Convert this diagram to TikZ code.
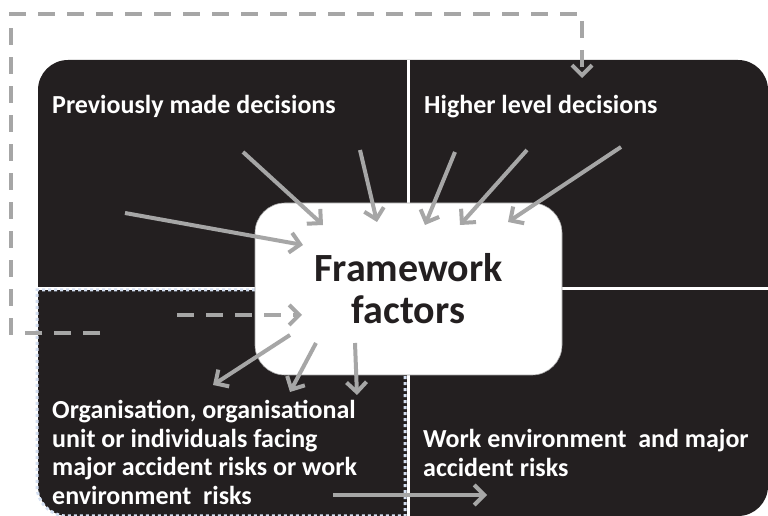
\documentclass[tikz,border=0pt]{standalone}
\usepackage{fontspec}
\setmainfont{Carlito}
\usetikzlibrary{arrows.meta}
\definecolor{panel}{HTML}{231F20}
\definecolor{arrowgray}{HTML}{A6A6A6}
\definecolor{dotblue}{HTML}{D5E0F2}
\tikzset{
  flow/.style={draw=arrowgray, line width=4pt, -{Straight Barb[length=10pt,width=20pt]}},
  dashflow/.style={flow, dash pattern=on 17pt off 12pt},
  label/.style={text=white, font=\bfseries\fontsize{26}{28.7}\selectfont, inner sep=0pt, align=left},
  centerbox/.style={draw=arrowgray, line width=0.6pt, fill=white, rounded corners=30pt,
    minimum width=307pt, minimum height=172pt, inner sep=0pt,
    font=\bfseries\fontsize{40}{42}\selectfont, text=panel, align=center}
}
\begin{document}
\begin{tikzpicture}[x=1pt,y=1pt]
\useasboundingbox (0,0) rectangle (768,516);
% black matrix panel
\fill[panel, rounded corners=30pt] (38,0) rectangle (768,456);
% dividers between the four quadrants
\draw[white, line width=3pt] (408,0) -- (408,456);
\draw[white, line width=3pt] (38,227) -- (768,227);
% dotted outline of the lower left quadrant
\draw[dotblue, line width=3pt, dash pattern=on 3pt off 3pt]
  (405,226) -- (37,226) -- (37,30) arc[start angle=180, end angle=270, radius=30] -- (405,0) -- cycle;
% quadrant titles
\node[label, anchor=base west] (prev) at (52,402) {Previously made decisions};
\node[label, anchor=base west] (high) at (424,402) {Higher level decisions};
\node[label, anchor=north west] (org) at (52,116) {Organisation, organisational\\unit or individuals facing\\major accident risks or work\\environment\ \ risks};
\node[label, anchor=north west] (work) at (423,87) {Work environment\ \ and major\\accident risks};
% central box
\node[centerbox] (fw) at (408.5,227) {Framework\\factors};
% arrow end points
\coordinate (p1) at (125,303); \coordinate (q1) at (303,271);
\coordinate (p2) at (243,364); \coordinate (q2) at (323,291);
\coordinate (p3) at (360,366); \coordinate (q3) at (377,294);
\coordinate (p4) at (455,364); \coordinate (q4) at (425,291);
\coordinate (p5) at (527,366); \coordinate (q5) at (460,291);
\coordinate (p6) at (621,369); \coordinate (q6) at (508,294);
\coordinate (oa) at (290,181); \coordinate (ta) at (213,131);
\coordinate (ob) at (316,173); \coordinate (tb) at (290,124);
\coordinate (oc) at (355,173); \coordinate (tc) at (357,121);
\coordinate (md) at (177,201); \coordinate (mt) at (302,201);
\coordinate (bs) at (333,21);  \coordinate (bt) at (487,21);
\coordinate (fb0) at (100,183); \coordinate (fb1) at (11,183);
\coordinate (fb2) at (11,502);  \coordinate (fb3) at (582,502);
\coordinate (fb4) at (582,438);
% influences on the framework factors
\foreach \i in {1,...,6} \draw[flow] (p\i) -- (q\i);
% framework factors acting on the organisation
\draw[flow] (oa) -- (ta);
\draw[flow] (ob) -- (tb);
\draw[flow] (oc) -- (tc);
\draw[dashflow] (md) -- (mt);
\draw[flow] (bs) -- (bt);
% feedback loop to higher level decisions
\draw[dashflow] (fb0) -- (fb1) -- (fb2) -- (fb3) -- (fb4);
\end{tikzpicture}
\end{document}
